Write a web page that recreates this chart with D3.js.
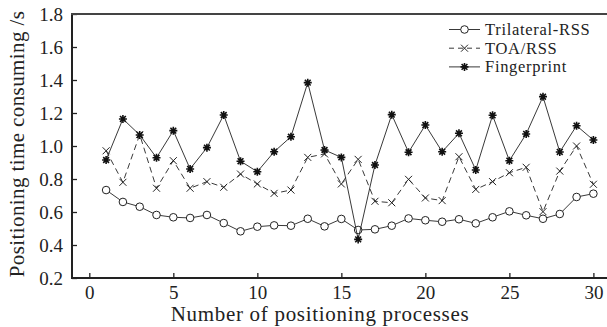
<!DOCTYPE html>
<head>
    <meta charset="utf-8">
    <title>Positioning time</title>
    <script type="text/javascript" src="https://d3js.org/d3.v7.min.js"></script>
    <style>
        body { margin: 0; background: #fff; }
        text { font-family: "Liberation Serif", serif; fill: #222; }
    </style>
</head>
<body>
<div id="container"></div>
<script>
    //-----------------------------DATA------------------------------//
    const processes = d3.range(1, 31);
    const trilateral = [0.733, 0.661, 0.632, 0.582, 0.568, 0.564, 0.582, 0.533, 0.483, 0.511,
        0.519, 0.517, 0.559, 0.513, 0.558, 0.491, 0.495, 0.517, 0.561, 0.550,
        0.541, 0.556, 0.531, 0.568, 0.604, 0.580, 0.559, 0.588, 0.691, 0.711];
    const toaRss = [0.971, 0.780, 1.069, 0.744, 0.911, 0.744, 0.784, 0.750, 0.830, 0.770,
        0.713, 0.733, 0.931, 0.952, 0.770, 0.919, 0.665, 0.656, 0.798, 0.685,
        0.669, 0.935, 0.737, 0.784, 0.838, 0.871, 0.602, 0.848, 1.000, 0.768];
    const fingerprint = [0.915, 1.164, 1.067, 0.929, 1.093, 0.861, 0.990, 1.188, 0.908, 0.844,
        0.965, 1.056, 1.384, 0.976, 0.931, 0.434, 0.885, 1.190, 0.962, 1.127,
        0.965, 1.077, 0.855, 1.186, 0.911, 1.073, 1.299, 0.964, 1.123, 1.036];
    const seriesNames = ["Trilateral-RSS", "TOA/RSS", "Fingerprint"];
    const xTicks = [0, 5, 10, 15, 20, 25, 30];
    const yTicks = [0.2, 0.4, 0.6, 0.8, 1.0, 1.2, 1.4, 1.6, 1.8];

    //-----------------------------SVG-------------------------------//
    const width = 607, height = 327;
    const plotLeft = 72, plotRight = 607, plotTop = 14, plotBottom = 278;
    const serif = "Liberation Serif";

    const svg = d3.select("div#container").append("svg")
        .attr("width", width)
        .attr("height", height);

    const xScale = d3.scaleLinear().domain([-1.03, 30.81]).range([plotLeft, plotRight]);
    const yScale = d3.scaleLinear().domain([0.2, 1.8]).range([plotBottom, plotTop]);

    const ink = "#222";

    //-----------------------------AXES------------------------------//
    const xaxis = d3.axisBottom(xScale).tickValues(xTicks).tickSize(-5).tickPadding(8)
        .tickFormat(d3.format("d"));
    const yaxis = d3.axisLeft(yScale).tickValues(yTicks).tickSize(-5).tickPadding(9)
        .tickFormat(d3.format(".1f"));

    const gx = svg.append("g")
        .attr("transform", "translate(0," + plotBottom + ")")
        .call(xaxis);
    const gy = svg.append("g")
        .attr("transform", "translate(" + plotLeft + ",0)")
        .call(yaxis);

    [gx, gy].forEach(function(g) {
        g.select(".domain").remove();
        g.selectAll(".tick line").attr("stroke", ink).attr("stroke-width", 1.3);
        g.selectAll(".tick text").attr("font-size", 19).attr("font-family", serif).attr("fill", ink);
    });

    // frame: left, bottom and top lines
    svg.append("line").attr("x1", plotLeft).attr("x2", plotLeft).attr("y1", plotTop).attr("y2", plotBottom)
        .attr("stroke", ink).attr("stroke-width", 2);
    svg.append("line").attr("x1", plotLeft - 1).attr("x2", plotRight).attr("y1", plotBottom).attr("y2", plotBottom)
        .attr("stroke", ink).attr("stroke-width", 2);
    svg.append("line").attr("x1", plotLeft - 1).attr("x2", plotRight).attr("y1", plotTop).attr("y2", plotTop)
        .attr("stroke", "#444").attr("stroke-width", 2);

    svg.append("text")
        .attr("x", 320).attr("y", 321)
        .attr("text-anchor", "middle")
        .attr("font-size", 21)
        .attr("letter-spacing", 0.7)
        .attr("font-family", serif)
        .text("Number of positioning processes");

    svg.append("text")
        .attr("transform", "translate(24,144) rotate(-90)")
        .attr("text-anchor", "middle")
        .attr("font-size", 21)
        .attr("letter-spacing", 0.4)
        .attr("font-family", serif)
        .text("Positioning time consuming /s");

    //----------------------------LINES------------------------------//
    const series = [
        { name: seriesNames[0], values: trilateral, dash: null, marker: "circle" },
        { name: seriesNames[1], values: toaRss, dash: "6,4", marker: "cross" },
        { name: seriesNames[2], values: fingerprint, dash: null, marker: "star" }
    ];

    const line = d3.line()
        .x(function(d, i) { return xScale(processes[i]); })
        .y(function(d) { return yScale(d); });

    function drawMarker(g, type, cx, cy) {
        if (type === "circle") {
            g.append("circle").attr("cx", cx).attr("cy", cy).attr("r", 3.8)
                .attr("fill", "#fff").attr("stroke", ink).attr("stroke-width", 1);
        } else if (type === "cross") {
            const s = 3.5;
            g.append("path")
                .attr("d", "M" + (cx - s) + "," + (cy - s) + "L" + (cx + s) + "," + (cy + s)
                    + "M" + (cx - s) + "," + (cy + s) + "L" + (cx + s) + "," + (cy - s))
                .attr("stroke", ink).attr("stroke-width", 1).attr("fill", "none");
        } else {
            const s = 4;
            const d = 2.9;
            g.append("path")
                .attr("d", "M" + (cx - s) + "," + cy + "L" + (cx + s) + "," + cy
                    + "M" + cx + "," + (cy - s) + "L" + cx + "," + (cy + s)
                    + "M" + (cx - d) + "," + (cy - d) + "L" + (cx + d) + "," + (cy + d)
                    + "M" + (cx - d) + "," + (cy + d) + "L" + (cx + d) + "," + (cy - d))
                .attr("stroke", "#111").attr("stroke-width", 1.6).attr("fill", "none");
        }
    }

    series.forEach(function(s) {
        svg.append("path")
            .attr("d", line(s.values))
            .attr("fill", "none")
            .attr("stroke", ink)
            .attr("stroke-width", 0.9)
            .attr("stroke-dasharray", s.dash);
        const g = svg.append("g");
        s.values.forEach(function(v, i) {
            drawMarker(g, s.marker, xScale(processes[i]), yScale(v));
        });
    });

    //----------------------------LEGEND-----------------------------//
    const legend = svg.append("g");
    series.forEach(function(s, i) {
        const ly = 29.5 + i * 18.7;
        legend.append("line")
            .attr("x1", 449).attr("x2", 480).attr("y1", ly).attr("y2", ly)
            .attr("stroke", ink).attr("stroke-width", 0.9)
            .attr("stroke-dasharray", s.dash ? "5,4" : null);
        drawMarker(legend, s.marker, 464.5, ly);
        legend.append("text")
            .attr("x", 485).attr("y", ly + 5.5)
            .attr("font-size", 16.5)
            .attr("letter-spacing", 0.7)
            .attr("font-family", serif)
            .text(s.name);
    });
</script>
</body>
